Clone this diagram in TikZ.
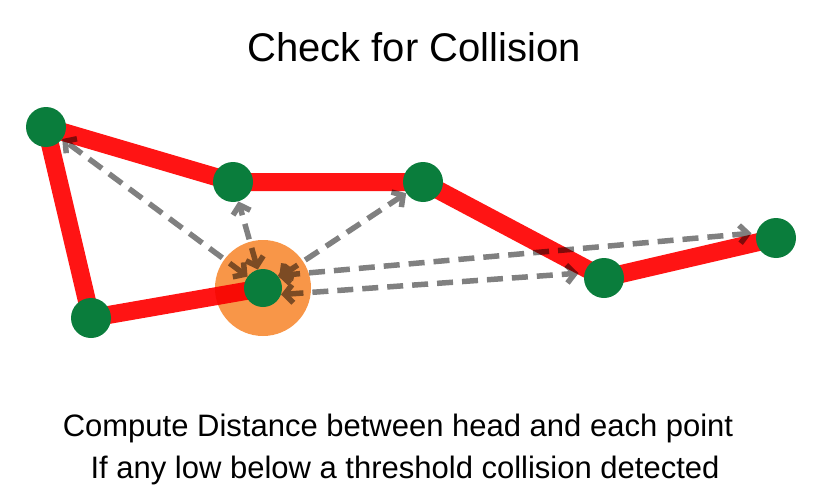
\documentclass[tikz,border=0pt]{standalone}
\usepackage{fontspec}
\setmainfont{Liberation Sans}
\usetikzlibrary{arrows.meta}
\pgfdeclarelayer{arrows}
\pgfdeclarelayer{halo}
\pgfdeclarelayer{track}
\pgfsetlayers{arrows,halo,track,main}
\definecolor{snakegreen}{RGB}{10,125,60}
\definecolor{snakered}{RGB}{255,20,20}
\definecolor{haloorange}{RGB}{248,150,72}
\definecolor{distgrey}{RGB}{128,128,128}
\tikzset{
  pt/.style={circle,fill=snakegreen,minimum size=40pt,inner sep=0pt},
  dist/.style={draw=distgrey,line width=5.5pt,dash pattern=on 16pt off 9pt,
    {Straight Barb[length=8pt,width=18pt]}-{Straight Barb[length=8pt,width=18pt]}},
}
\begin{document}
\begin{tikzpicture}[x=1pt,y=-1pt]
\useasboundingbox (0,0) rectangle (824,487);
\node[font=\fontsize{40}{48}\selectfont,anchor=base] (title) at (414,62) {Check for Collision};
% the snake: points and head
\node[pt] (a) at (46,127) {};
\node[pt] (b) at (233,182) {};
\node[pt] (c) at (423,182) {};
\node[pt] (d) at (604,278) {};
\node[pt] (e) at (776,238) {};
\node[pt] (f) at (91,318) {};
\node[pt,minimum size=38pt] (h) at (263,288) {};
% distances from the head
\begin{pgfonlayer}{arrows}
\foreach \p in {a,b,c}
  \draw[dist] (h) -- (\p);
\draw[dist,shorten >=5pt] (h.40) -- (e.165);
\draw[dist,shorten >=6pt] (h.-20) -- (d.165);
\end{pgfonlayer}
\begin{pgfonlayer}{halo}
\fill[haloorange,blend mode=multiply] (h.center) circle (48pt);
\end{pgfonlayer}
\begin{pgfonlayer}{track}
\draw[snakered,blend mode=multiply,line width=18pt,line join=round]
  (h.center) -- (f.center) -- (a.center) -- (b.center) -- (c.center) -- (d.center) -- (e.center);
\end{pgfonlayer}
\node[font=\fontsize{31}{37}\selectfont,anchor=base] (line1) at (398,436) {Compute Distance between head and each point};
\node[font=\fontsize{31}{37}\selectfont,anchor=base] (line2) at (405,478) {If any low below a threshold collision detected};
\end{tikzpicture}
\end{document}
